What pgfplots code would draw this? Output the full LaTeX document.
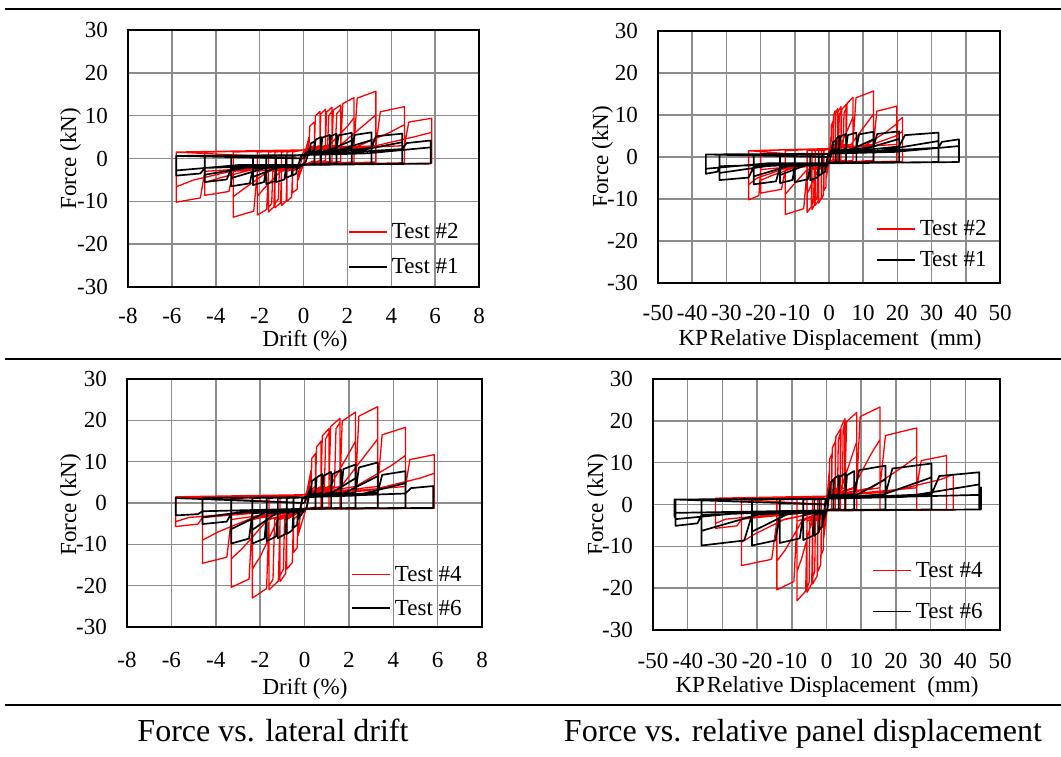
\documentclass[border=0pt]{standalone}
\usepackage{fontspec}
\setmainfont{Liberation Serif}
\usepackage{pgfplots}
\usepackage{pgfplotstable}
\pgfplotsset{compat=1.18}
\newcommand{\lf}{\fontsize{23}{27}\selectfont}
\newcommand{\cf}{\fontsize{32}{36}\selectfont}

% Test #2 (red, top): drift d, KP displacement k, force f
\pgfplotstableread{
d k f
0 0 0
0.25 0.6 5
0.05 0.1 -0.5
-0.25 -0.8 -5
-0.05 -0.15 1
0 0 1.5
0.25 0.6 3
0.29 0.7 7.6
0.5 1.2 8.5
0.5 1.2 -0.5
0 0 -1.5
-0.25 -0.8 -3
-0.29 -0.9 -7.2
-0.5 -1.5 -8
-0.5 -1.5 1.5
0 0 2
0.5 1.2 3
0.54 1.3 9.9
0.75 1.8 11
0.75 1.8 -0.5
0 0 -1.5
-0.5 -1.5 -3
-0.54 -1.6 -9
-0.75 -2.2 -10
-0.75 -2.2 1.5
0 0 2
0.75 1.8 3
0.79 1.9 10.4
1.0 2.5 11.5
1.0 2.5 -0.5
0 0 -1.5
-0.75 -2.2 -3
-0.79 -2.3 -9.9
-1.0 -3.0 -11
-1.0 -3.0 1.5
0 0 2
1.0 2.5 3
1.05 2.65 10.8
1.3 3.5 12
1.3 3.5 -0.6
0 0 -1.5
-1.0 -3.0 -3
-1.05 -3.15 -10.4
-1.3 -4.0 -11.5
-1.3 -4.0 1.5
0 0 2
1.1 2.8 3
1.15 3.0 10
1.3 3.5 11
1.3 3.5 -0.6
0 0 -1.5
-1.1 -3.3 -3
-1.15 -3.5 -9.5
-1.3 -4.0 -10.5
-1.3 -4.0 1.5
0 0 2
1.3 3.5 3
1.36 3.7 11.3
1.7 5.0 12.5
1.7 5.0 -0.7
0 0 -1.5
-1.3 -4.0 -3
-1.35 -4.15 -11.3
-1.6 -5.0 -12.5
-1.6 -5.0 1.5
0 0 2
1.45 4.1 3
1.52 4.4 10.5
1.7 5.0 11.5
1.7 5.0 -0.7
0 0 -1.5
-1.4 -4.3 -3
-1.45 -4.5 -10.5
-1.6 -5.0 -11.5
-1.6 -5.0 1.5
0 0 2
1.7 5.0 3
1.79 5.3 12.8
2.3 7.0 14.2
2.3 7.0 -0.8
0 0 -1.5
-1.6 -5.0 -3
-1.68 -5.2 -11.9
-2.1 -6.4 -13.2
-2.1 -6.4 1.5
0 0 2
1.15 3.5 3
2.0 6.0 7.5
2.3 7.0 9.5
2.3 7.0 -0.8
0 0 -1.5
-1.05 -3.2 -3
-1.8 -5.4 -7
-2.1 -6.4 -8.8
-2.1 -6.4 1.5
0 0 2
2.3 7.0 3
2.45 7.9 14.1
3.3 13.0 15.7
3.3 13.0 -0.8
0 0 -1.5
-2.1 -6.4 -3
-2.27 -7.4 -12.3
-3.2 -12.8 -13.7
-3.2 -12.8 1.5
0 0 2
1.65 6.5 3
2.8 11.0 8
3.3 13.0 10.2
3.3 13.0 -0.9
0 0 -1.5
-1.6 -6.4 -3
-2.7 -10.8 -7
-3.2 -12.8 -8.9
-3.2 -12.8 1.5
0 0 2
3.3 13.0 3
3.5 14.0 10.9
4.6 19.8 12.1
4.6 19.8 -1
0 0 -1.5
-3.2 -12.8 -3
-3.4 -13.9 -7.7
-4.5 -20.0 -8.6
-4.5 -20.0 1.5
0 0 2
2.3 10 2.5
3.9 16.8 6
4.6 19.8 7.9
4.6 19.8 -1
0 0 -1.5
-2.25 -10 -2.5
-3.8 -17 -4.5
-4.5 -20.0 -5.6
-4.5 -20.0 1.5
0 0 2
4.6 19.8 3
4.8 20.1 8.5
5.85 21.5 9.4
5.85 21.5 -1.1
0 0 -1.5
-4.5 -20.0 -3
-4.7 -20.5 -9.2
-5.8 -23.5 -10.2
-5.8 -23.5 1.5
0 0 2
2.9 11 2.5
5.0 19.5 5
5.85 21.5 6.1
5.85 21.5 -1.1
0 0 -1.5
-2.9 -12 -2.5
-5.0 -21 -5
-5.8 -23.5 -6.6
-5.8 -23.5 1.5
0 0 0
}\testtwo

% Test #1 (black, top)
\pgfplotstableread{
d k f
0 0 0
0.3 1.0 2.5
0.1 0.3 -0.8
-0.3 -1.0 -2.5
-0.1 -0.3 0.6
0 0 0.8
0.3 1.0 2
0.33 1.15 3.5
0.5 2.0 4
0.5 2.0 -1.2
0 0 -1.5
-0.3 -1.0 -2.2
-0.33 -1.15 -3.5
-0.5 -2.0 -4
-0.5 -2.0 0.6
0 0 0.8
0.5 2.0 2
0.55 2.15 4.4
0.8 3.0 5
0.8 3.0 -1.2
0 0 -1.5
-0.5 -2.0 -2.2
-0.55 -2.15 -4
-0.8 -3.0 -4.5
-0.8 -3.0 0.6
0 0 0.8
0.8 3.0 2
0.86 3.3 4.9
1.2 5.0 5.5
1.2 5.0 -1.2
0 0 -1.5
-0.8 -3.0 -2.2
-0.87 -3.4 -4.9
-1.25 -5.5 -5.5
-1.25 -5.5 0.6
0 0 0.8
1.2 5.0 2
1.25 5.5 5.2
1.5 8.0 5.8
1.5 8.0 -1.2
0 0 -1.5
-1.25 -5.5 -2.2
-1.32 -6.2 -5.3
-1.7 -10.0 -6
-1.7 -10.0 0.6
0 0 0.8
1.5 8.0 2.2
1.6 8.8 5.4
2.2 13.0 6.0
2.2 13.0 -1.2
0 0 -1.5
-1.7 -10.0 -2.2
-1.8 -10.7 -5.5
-2.3 -14.3 -6.2
-2.3 -14.3 0.6
0 0 0.8
1.1 6.5 1.8
2.2 13.0 4.2
2.2 13.0 -1.2
0 0 -1.5
-1.15 -7.0 -2
-2.3 -14.3 -4.3
-2.3 -14.3 0.6
0 0 0.8
2.2 13.0 2.5
2.33 14.1 5.5
3.1 20.5 6.1
3.1 20.5 -1.2
0 0 -1.5
-2.3 -14.3 -2.3
-2.45 -15.5 -5.8
-3.3 -22.0 -6.5
-3.3 -22.0 0.6
0 0 0.8
1.5 10 1.8
3.1 20.5 4.3
3.1 20.5 -1.2
0 0 -1.5
-1.6 -11 -2
-3.3 -22.0 -4.6
-3.3 -22.0 0.6
0 0 0.8
3.1 20.5 2.5
3.3 22.2 5.2
4.5 32.0 5.8
4.5 32.0 -1.2
0 0 -1.5
-3.3 -22.0 -2.3
-3.5 -23.5 -4.9
-4.5 -32.0 -5.5
-4.5 -32.0 0.6
0 0 0.8
2.2 15 1.5
4.5 32.0 3.8
4.5 32.0 -1.2
0 0 -1.5
-2.2 -15 -1.8
-4.5 -32.0 -3.8
-4.5 -32.0 0.6
0 0 0.8
4.5 32.0 2.2
4.7 33.0 3.6
5.8 38.0 4.2
5.8 38.0 -1.2
0 0 -1.5
-4.5 -32.0 -2.2
-4.7 -32.6 -3.5
-5.8 -36.0 -4.0
-5.8 -36.0 0.6
0 0 0.8
2.9 19 1.2
5.8 38.0 2.6
5.8 38.0 -1.2
0 0 -1.5
-2.9 -18 -1.5
-5.8 -36.0 -2.8
-5.8 -36.0 0.6
0 0 0
}\testone

% Test #4 (red, bottom)
\pgfplotstableread{
d k f
0 0 0
0.3 0.8 8
0.1 0.25 -0.8
-0.3 -0.8 -8
-0.1 -0.25 1
0 0 1.5
0.3 0.8 4
0.33 0.9 10.8
0.5 1.5 12
0.5 1.5 -1
0 0 -1.5
-0.3 -0.8 -4
-0.33 -0.9 -10.8
-0.5 -1.5 -12
-0.5 -1.5 1.5
0 0 2
0.5 1.5 4
0.54 1.65 13.5
0.75 2.5 15
0.75 2.5 -1
0 0 -1.5
-0.5 -1.5 -4
-0.55 -1.65 -14.4
-0.8 -2.5 -16
-0.8 -2.5 1.5
0 0 2
0.75 2.5 4
0.8 2.7 16.2
1.1 4.0 18
1.1 4.0 -1
0 0 -1.5
-0.8 -2.5 -4
-0.85 -2.7 -17.1
-1.1 -4.0 -19
-1.1 -4.0 1.5
0 0 2
0.9 3.2 4
0.95 3.4 15.5
1.1 4.0 17
1.1 4.0 -1
0 0 -1.5
-0.9 -3.2 -4
-0.95 -3.4 -16
-1.1 -4.0 -17.5
-1.1 -4.0 1.5
0 0 2
1.1 4.0 4
1.18 4.2 18.5
1.6 5.3 20.5
1.6 5.3 -1.2
0 0 -1.5
-1.1 -4.0 -4
-1.18 -4.25 -18.9
-1.6 -5.6 -21
-1.6 -5.6 1.5
0 0 2
1.35 4.6 4
1.42 4.8 18
1.6 5.3 19.5
1.6 5.3 -1.2
0 0 -1.5
-1.35 -4.8 -4
-1.42 -5.0 -18.5
-1.6 -5.6 -20
-1.6 -5.6 1.5
0 0 2
1.6 5.3 4
1.7 5.8 19.8
2.3 8.7 22
2.3 8.7 -1.2
0 0 -1.5
-1.6 -5.6 -4
-1.71 -6.0 -20.7
-2.35 -8.5 -23
-2.35 -8.5 1.5
0 0 2
1.15 4.3 4
2.0 7.5 12
2.3 8.7 15
2.3 8.7 -1.2
0 0 -1.5
-1.2 -4.2 -4
-2.0 -7.2 -13
-2.35 -8.5 -16
-2.35 -8.5 1.5
0 0 2
2.3 8.7 4
2.45 9.7 21
3.3 15.4 23.3
3.3 15.4 -1.2
0 0 -1.5
-2.35 -8.5 -4
-2.5 -9.4 -18.4
-3.3 -14.3 -20.4
-3.3 -14.3 1.5
0 0 2
1.65 7.7 4
2.8 12.8 12
3.3 15.4 15.5
3.3 15.4 -1.3
0 0 -1.5
-1.65 -7.1 -4
-2.8 -12 -11
-3.3 -14.3 -13.5
-3.3 -14.3 1.5
0 0 2
3.3 15.4 4
3.5 17.0 16.5
4.55 26.0 18.3
4.55 26.0 -1.3
0 0 -1.5
-3.3 -14.3 -4
-3.5 -15.8 -13.1
-4.6 -24.5 -14.6
-4.6 -24.5 1.5
0 0 2
2.3 13 4
3.9 22 9
4.55 26.0 11.5
4.55 26.0 -1.3
0 0 -1.5
-2.3 -12 -3.5
-3.9 -20.5 -7
-4.6 -24.5 -9
-4.6 -24.5 1.5
0 0 2
4.55 26.0 4
4.75 27.3 10.5
5.85 34.6 11.7
5.85 34.6 -1.3
0 0 -1.5
-4.6 -24.5 -3.5
-4.8 -25.8 -5.1
-5.8 -32.0 -5.7
-5.8 -32.0 1.5
0 0 2
2.9 18 3
5.2 33 6
5.85 36.5 7.2
5.85 36.5 -1.3
0 0 -1.5
-2.9 -16 -2.5
-5.2 -29 -3.5
-5.8 -32.0 -4.5
-5.8 -32.0 1.5
0 0 0
}\testfour

% Test #6 (black, bottom)
\pgfplotstableread{
d k f
0 0 0
0.3 1.0 4
0.1 0.3 -1
-0.3 -1.0 -4
-0.1 -0.3 1
0 0 1.2
0.3 1.0 2.5
0.33 1.15 5.3
0.5 2.0 6
0.5 2.0 -1.2
0 0 -1.4
-0.3 -1.0 -2.5
-0.33 -1.15 -5.3
-0.5 -2.0 -6
-0.5 -2.0 1.2
0 0 1.4
0.5 2.0 2.5
0.55 2.2 6.2
0.8 3.5 7
0.8 3.5 -1.2
0 0 -1.4
-0.5 -2.0 -2.5
-0.55 -2.2 -6.6
-0.8 -3.5 -7.5
-0.8 -3.5 1.2
0 0 1.4
0.8 3.5 2.5
0.86 3.8 6.6
1.2 5.5 7.5
1.2 5.5 -1.2
0 0 -1.4
-0.8 -3.5 -2.5
-0.86 -4.0 -7.5
-1.2 -6.7 -8.5
-1.2 -6.7 1.2
0 0 1.4
1.2 5.5 2.5
1.27 5.9 7
1.65 8.0 8
1.65 8.0 -1.2
0 0 -1.4
-1.2 -6.7 -2.5
-1.28 -7.7 -8.1
-1.7 -13.5 -9.2
-1.7 -13.5 1.2
0 0 1.4
1.65 8.0 2.5
1.75 9.4 8.2
2.3 17.0 9.3
2.3 17.0 -1.2
0 0 -1.4
-1.7 -13.5 -2.5
-1.8 -14.7 -8.6
-2.35 -21.5 -9.8
-2.35 -21.5 1.2
0 0 1.4
1.15 8.5 2.2
2.3 17.0 6
2.3 17.0 -1.2
0 0 -1.4
-1.2 -11 -2.2
-2.35 -21.5 -6.5
-2.35 -21.5 1.2
0 0 1.4
2.3 17.0 2.5
2.45 19.0 8.6
3.3 30.3 9.8
3.3 30.3 -1.2
0 0 -1.4
-2.35 -21.5 -2.5
-2.5 -23.7 -8.6
-3.3 -36.0 -9.8
-3.3 -36.0 1.2
0 0 1.4
1.65 15 2
3.3 30.3 6.5
3.3 30.3 -1.2
0 0 -1.4
-1.65 -18 -2
-3.3 -36.0 -6.3
-3.3 -36.0 1.2
0 0 1.4
3.3 30.3 2.5
3.5 32.5 6.8
4.55 44.0 7.7
4.55 44.0 -1.2
0 0 -1.4
-3.3 -36.0 -2.5
-3.5 -37.2 -4.5
-4.6 -43.5 -5.1
-4.6 -43.5 1.2
0 0 1.4
2.3 22 1.8
4.55 44.0 4.8
4.55 44.0 -1.2
0 0 -1.4
-2.3 -22 -1.8
-4.6 -43.5 -3.5
-4.6 -43.5 1.2
0 0 1.4
4.55 44.0 2.3
4.8 44.1 3.6
5.8 44.5 4.1
5.8 44.5 -1.2
0 0 -1.4
-4.6 -43.5 -2
-4.8 -43.6 -2.7
-5.8 -43.8 -3.0
-5.8 -43.8 1.2
0 0 0
}\testsix

\pgfplotsset{
  hyst/.style={
    scale only axis,
    anchor=south west,
    ymin=-30, ymax=30,
    ytick={-30,-20,-10,0,10,20,30},
    yticklabels={-30,-20,-10,0,10,20,30},
    xmajorgrids=true, ymajorgrids=true,
    major grid style={draw=black!45, line width=1.5pt},
    axis line style={line width=2.8pt},
    tick style={draw=none},
    tick label style={font=\lf},
    yticklabel style={anchor=east, inner sep=0pt, xshift=-20pt},
    legend style={draw=none, fill=none, font=\lf, inner sep=0pt,
      nodes={inner sep=1pt}, column sep=3pt},
    legend cell align=left,
    legend image code/.code={\draw[#1] (0pt,0pt) -- (38pt,0pt);},
  },
  driftax/.style={xmin=-8, xmax=8, xtick={-8,-6,-4,-2,0,2,4,6,8},
    xticklabels={-8,-6,-4,-2,0,2,4,6,8}},
  kpax/.style={xmin=-50, xmax=50, xtick={-50,-40,-30,-20,-10,0,10,20,30,40,50},
    xticklabels={-50,-40,-30,-20,-10,0,10,20,30,40,50}},
  redline/.style={color=red, line width=1.3pt, line join=round},
  blackline/.style={color=black, line width=1.7pt, line join=round},
}

\begin{document}
\begin{tikzpicture}
\useasboundingbox (0pt,0pt) rectangle (1061pt,757pt);

% rules
\draw[line width=2.7pt] (5pt,748pt) -- (1061pt,748pt);
\draw[line width=2.7pt] (5pt,398pt) -- (1061pt,398pt);
\draw[line width=2.7pt] (5pt,52pt) -- (1061pt,52pt);

% y labels (drawn first so tick labels can overlap them)
\node[rotate=90, anchor=base, inner sep=0pt, font=\lf] at (76pt,598pt) {Force (kN)};
\node[rotate=90, anchor=base, inner sep=0pt, font=\lf] at (608pt,600pt) {Force (kN)};
\node[rotate=90, anchor=base, inner sep=0pt, font=\lf] at (76pt,252pt) {Force (kN)};
\node[rotate=90, anchor=base, inner sep=0pt, font=\lf] at (603pt,252pt) {Force (kN)};

% top-left
\begin{axis}[hyst, driftax, at={(128pt,470pt)}, width=351pt, height=257pt,
  xticklabel style={anchor=north, inner sep=0pt, yshift=-21pt},
  legend style={at={(0.627,0.146)}, anchor=west, row sep=16pt}]
\addplot[redline] table[x=d, y=f] {\testtwo};
\addlegendentry{Test \#2}
\addplot[blackline] table[x=d, y=f] {\testone};
\addlegendentry{Test \#1}
\end{axis}

% top-right
\begin{axis}[hyst, kpax, at={(658pt,474pt)}, width=342pt, height=252pt,
  yticklabel style={fill=white},
  xticklabel style={anchor=north, inner sep=0pt, yshift=-22pt},
  legend style={at={(0.637,0.153)}, anchor=west, row sep=12pt}]
\addplot[redline] table[x=k, y=f] {\testtwo};
\addlegendentry{Test \#2}
\addplot[blackline] table[x=k, y=f] {\testone};
\addlegendentry{Test \#1}
\end{axis}

% bottom-left
\begin{axis}[hyst, driftax, at={(127pt,130pt)}, width=355pt, height=248pt,
  xticklabel style={anchor=north, inner sep=0pt, yshift=-25pt},
  legend style={at={(0.631,0.143)}, anchor=west, row sep=15pt}]
\addplot[redline] table[x=d, y=f] {\testfour};
\addlegendentry{Test \#4}
\addplot[blackline] table[x=d, y=f] {\testsix};
\addlegendentry{Test \#6}
\end{axis}

% bottom-right
\begin{axis}[hyst, kpax, at={(653pt,127pt)}, width=347pt, height=251pt,
  yticklabel style={fill=white},
  xticklabel style={anchor=north, inner sep=0pt, yshift=-23pt},
  legend style={at={(0.631,0.155)}, anchor=west, row sep=22pt}]
\addplot[redline] table[x=k, y=f] {\testfour};
\addlegendentry{Test \#4}
\addplot[blackline] table[x=k, y=f] {\testsix};
\addlegendentry{Test \#6}
\end{axis}

% x labels
\node[anchor=base, inner sep=0pt, font=\lf] at (305pt,410pt) {Drift (\%)};
\node[anchor=base, inner sep=0pt, font=\lf] at (830pt,411pt) {KP\hspace{2pt}Relative Displacement\ \ (mm)};
\node[anchor=base, inner sep=0pt, font=\lf] at (305pt,62pt) {Drift (\%)};
\node[anchor=base, inner sep=0pt, font=\lf] at (827pt,64pt) {KP\hspace{2pt}Relative Displacement\ \ (mm)};

% captions
\node[anchor=base, inner sep=0pt, font=\cf] at (273pt,15pt) {Force vs. lateral drift};
\node[anchor=base, inner sep=0pt, font=\cf] at (803pt,15pt) {Force vs. relative panel displacement};
\end{tikzpicture}
\end{document}
